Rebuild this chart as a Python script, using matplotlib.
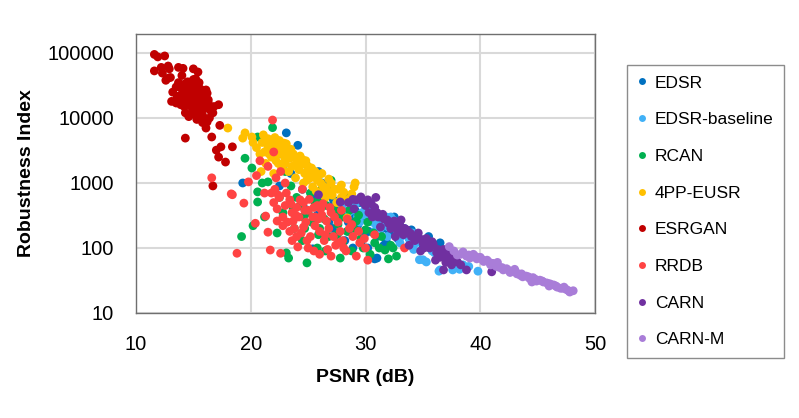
import matplotlib
matplotlib.use("Agg")
import matplotlib.pyplot as plt
from matplotlib.lines import Line2D

# ---------------- data (PSNR dB, Robustness Index) ----------------
edsr_psnr = [23.1, 24.1, 24.8, 19.3, 25.4, 28.9, 31.0, 30.8, 34.0, 25.5, 26.0, 26.5, 27.0, 27.2, 27.5,
             27.8, 28.0, 28.3, 28.5, 28.8, 29.0, 29.3, 29.5, 29.8, 30.0, 30.3, 30.5, 30.8, 31.0, 31.2,
             31.5, 31.8, 32.0, 32.3, 32.5, 32.8, 33.0, 33.5, 34.5, 35.0, 35.5, 36.0, 36.5, 37.0, 26.8,
             27.6, 28.2, 29.6, 30.2, 24.5, 25.0, 26.2, 23.5, 22.5,
             26.3, 27.3, 28.6, 29.1, 30.6, 31.4, 32.0, 32.8, 33.2, 33.8, 34.2, 35.2, 29.9, 31.6, 28.5,
             27.1, 25.8, 24.7, 26.7, 25.9]
edsr_ri = [5900, 3800, 2000, 1000, 97, 100, 70, 68, 190, 600, 450, 700, 400, 550, 300,
           450, 350, 600, 250, 400, 300, 220, 500, 350, 280, 180, 400, 250, 150, 320,
           200, 130, 260, 170, 300, 140, 220, 160, 130, 110, 150, 90, 120, 80, 250,
           170, 130, 120, 100, 800, 1200, 1000, 1400, 900,
           550, 480, 520, 380, 330, 280, 190, 240, 180, 140, 120, 130, 160, 110, 180,
           200, 320, 400, 900, 1500]

edsrb_psnr = [27.5, 28.0, 28.5, 29.0, 29.3, 29.7, 30.0, 30.3, 30.6, 31.0, 31.3, 31.6, 32.0, 32.4, 32.8,
              33.1, 33.4, 33.8, 34.1, 34.4, 34.7, 35.0, 35.3, 35.6, 36.0, 36.4, 36.5, 37.0, 37.6, 38.0,
              38.5, 39.8, 30.8, 31.9, 33.0, 34.2, 29.5, 32.2,
              28.8, 29.9, 30.9, 31.8, 32.6, 33.3, 34.6, 35.1, 35.8, 36.8, 37.3, 37.8, 38.2, 39.0, 29.2, 30.5]
edsrb_ri = [500, 400, 350, 450, 300, 350, 420, 280, 250, 320, 200, 260, 210, 270, 180,
            150, 200, 140, 170, 120, 66, 66, 61, 100, 85, 44, 46, 70, 46, 60,
            55, 44, 180, 150, 120, 95, 250, 300,
            380, 320, 230, 300, 230, 170, 140, 120, 90, 75, 60, 50, 47, 52, 500, 360]

rcan_psnr = [21.9, 19.5, 20.6, 20.1, 20.6, 21.5, 19.2, 20.2, 22.3, 23.1, 23.3, 20.6, 24.9, 22.0, 22.5,
             23.0, 23.5, 24.0, 24.3, 24.6, 25.0, 25.3, 25.6, 26.0, 26.4, 26.8, 27.2, 27.6, 28.0, 28.4,
             28.8, 29.2, 29.6, 30.0, 30.4, 30.8, 31.2, 31.7, 32.2, 32.7, 26.5, 27.8, 22.8, 23.8, 21.2,
             24.5, 25.8, 27.0, 28.2, 26.2, 32.4, 32.0,
             25.2, 26.0, 26.6, 27.4, 28.0, 28.6, 29.0, 29.4, 30.2, 30.7, 31.4, 23.7, 24.7, 22.5, 21.0,
             25.9, 27.5, 29.8]
rcan_ri = [7100, 2400, 5100, 1700, 730, 1040, 150, 220, 170, 84, 70, 510, 59, 3500, 2800,
           1500, 900, 600, 450, 300, 350, 250, 500, 200, 280, 150, 400, 230, 120, 180,
           90, 260, 140, 190, 80, 120, 100, 93, 110, 75, 90, 70, 350, 200, 300,
           130, 100, 1100, 650, 800, 100, 68,
           700, 550, 450, 330, 300, 380, 200, 320, 250, 170, 150, 400, 200, 600, 1000,
           160, 160, 100]

eusr_psnr = [18.0, 19.5, 19.3, 20.1, 21.1, 21.0, 21.7, 22.3, 22.5, 22.8, 20.5, 20.8, 21.2, 21.5, 21.8,
             22.0, 22.2, 22.4, 22.6, 22.9, 23.0, 23.2, 23.4, 23.6, 23.8, 24.0, 24.2, 24.4, 24.5, 24.7,
             24.9, 25.0, 25.2, 25.4, 25.5, 25.8, 25.9, 26.1, 26.3, 26.6, 26.7, 27.1, 27.3, 27.9, 28.8,
             29.0, 29.1, 28.4, 23.3, 22.7, 21.3, 22.0, 26.0, 24.6, 23.9, 27.5, 26.5, 25.7, 20.9, 23.1,
             21.5, 22.1, 21.9, 22.7, 23.5, 23.7, 24.3, 24.8, 25.3, 25.6, 26.2, 26.8, 27.0, 27.6, 28.1,
             22.4, 23.0, 23.9, 24.9, 26.4, 27.9, 28.5, 20.2, 21.6, 22.9]
eusr_ri = [7000, 5900, 4900, 5100, 5500, 4200, 4300, 4200, 4500, 3200, 3500, 2800, 3000, 3600, 2500,
           3300, 2200, 2800, 3700, 2600, 2000, 3000, 2400, 1800, 2500, 2100, 1600, 1900, 2300, 1400,
           1500, 1800, 1200, 870, 1300, 1100, 1300, 1000, 900, 840, 730, 650, 800, 930, 680,
           870, 1000, 290, 1500, 1700, 2000, 1400, 700, 1000, 1200, 500, 600, 750, 1500, 4000,
           4800, 5000, 3900, 3500, 3300, 2800, 2600, 2200, 1700, 1500, 1400, 1150, 1000, 800, 720,
           2000, 2300, 1900, 1100, 650, 600, 560, 4200, 2800, 4100]

esrgan_psnr = [11.6, 11.9, 12.5, 11.6, 12.3, 12.8, 12.9, 12.8, 13.7, 14.1, 15.0, 15.4, 14.0, 13.7, 14.5,
               15.0, 13.1, 13.7, 16.1, 16.3, 17.2, 16.7, 16.2, 16.1, 16.6, 14.3, 17.0, 17.4, 17.2, 17.8,
               18.4, 17.3, 16.7, 13.2, 13.5, 13.8, 14.0, 14.2, 14.4, 14.5, 14.6, 14.7, 14.8, 14.9, 15.0,
               15.1, 15.2, 15.3, 15.4, 15.5, 15.6, 15.7, 15.8, 15.9, 16.0, 14.3, 14.6, 15.3, 15.8, 16.4,
               16.5, 13.9, 14.1, 15.0, 15.5, 16.2,
               14.4, 14.8, 15.2, 14.9, 15.1, 15.6, 14.7, 15.4, 13.6, 14.2, 16.3, 15.9, 15.2, 16.8, 13.5,
               12.6, 13.0, 12.2]
esrgan_ri = [95000, 87000, 90000, 53000, 49000, 63000, 57000, 41000, 60000, 58000, 57000, 51000, 45000, 35000, 36000,
             39000, 18000, 19000, 27000, 19000, 16000, 12000, 8700, 7000, 5100, 4900, 3200, 3600, 2500, 2100,
             3600, 7700, 900, 25000, 30000, 22000, 28000, 33000, 25000, 18000, 30000, 22000, 15000, 27000, 20000,
             32000, 17000, 24000, 13000, 21000, 28000, 16000, 11000, 19000, 14000, 12000, 10500, 9500, 8500, 10000,
             13000, 16000, 20000, 25000, 35000, 24000,
             28000, 35000, 40000, 12000, 14000, 23000, 19000, 30000, 21000, 15000, 17000, 26000, 11000, 15000, 17000,
             38000, 42000, 60000]

rrdb_psnr = [21.9, 16.6, 18.4, 19.4, 18.8, 21.7, 22.6, 24.1, 20.4, 21.5, 21.3, 18.3, 19.8, 20.5, 20.8,
             22.6, 21.8, 22.0, 22.3, 22.5, 22.8, 23.0, 23.2, 23.4, 23.6, 23.8, 24.0, 24.2, 24.4, 24.6,
             24.8, 25.0, 25.2, 25.4, 25.6, 25.8, 26.0, 26.2, 26.4, 26.6, 26.8, 27.0, 27.2, 27.4, 27.6,
             27.8, 28.0, 28.3, 28.6, 28.9, 29.2, 29.5, 30.0, 30.8, 30.2, 26.0, 27.0, 25.5, 23.0, 22.2,
             24.5, 22.0, 21.5, 23.6, 25.0, 26.7, 21.2, 33.4,
             22.1, 22.4, 23.1, 23.5, 23.9, 24.3, 24.7, 25.1, 25.5, 25.9, 26.3, 26.9, 27.3, 27.9, 28.4,
             28.8, 29.4, 29.9, 24.9, 24.0, 23.4, 22.8, 22.3, 26.5, 27.6, 28.1, 25.6, 24.6, 26.1, 23.7]
rrdb_ri = [9300, 1200, 660, 490, 83, 93, 83, 104, 240, 175, 310, 680, 1040, 1300, 2200,
           1500, 700, 500, 400, 600, 300, 450, 250, 550, 350, 200, 420, 300, 170, 500,
           250, 380, 150, 300, 220, 450, 180, 320, 130, 260, 200, 350, 150, 110, 250,
           180, 130, 90, 200, 150, 75, 120, 100, 160, 65, 80, 75, 90, 1000, 1200,
           800, 3000, 1800, 130, 100, 95, 700, 100,
           800, 650, 700, 480, 320, 550, 380, 560, 420, 280, 480, 420, 300, 380, 280,
           230, 180, 140, 130, 150, 180, 220, 260, 160, 120, 100, 300, 210, 400, 260]

carn_psnr = [25.9, 27.8, 28.5, 29.0, 29.6, 29.2, 30.0, 30.3, 30.6, 31.0, 31.3, 31.6, 32.0, 32.2, 32.5,
             32.8, 33.0, 33.3, 33.6, 34.0, 34.3, 34.6, 35.0, 35.3, 35.6, 35.9, 36.2, 36.5, 36.8, 37.0,
             37.3, 37.6, 38.0, 36.8, 38.8, 41.0, 37.9, 34.8, 33.8, 32.6,
             29.8, 30.2, 30.8, 31.1, 31.5, 31.9, 32.4, 32.9, 33.4, 33.9, 34.4, 34.9, 35.4, 35.8, 36.3,
             36.6, 37.1, 37.5, 38.3, 36.1, 35.1, 33.1, 30.5, 28.9, 30.9]
carn_ri = [660, 510, 500, 400, 610, 550, 450, 350, 300, 350, 210, 280, 240, 200, 260,
           180, 220, 160, 190, 150, 130, 170, 120, 140, 100, 115, 85, 72, 95, 60,
           80, 65, 61, 46, 46, 43, 75, 90, 110, 150,
           500, 550, 420, 300, 330, 270, 220, 230, 200, 170, 150, 135, 110, 125, 95,
           80, 70, 55, 55, 65, 100, 270, 480, 560, 600]

carnm_psnr = [37.3, 38.0, 38.5, 38.8, 39.1, 39.4, 39.7, 40.0, 40.3, 40.6, 40.9, 41.1, 41.4, 41.7, 42.0,
              42.3, 42.6, 42.9, 43.2, 43.5, 43.7, 44.0, 44.3, 44.6, 44.9, 45.2, 45.5, 45.8, 46.1, 46.4,
              46.7, 47.0, 47.3, 47.5, 47.8, 48.1, 41.5, 43.0, 44.5, 46.0,
              38.3, 39.0, 39.6, 40.2, 40.8, 41.3, 41.9, 42.5, 43.1, 43.6, 44.2, 44.8, 45.4, 46.0, 46.6,
              47.2, 47.7, 37.7]
carnm_ri = [105, 78, 87, 75, 70, 80, 68, 72, 62, 65, 55, 58, 52, 50, 46,
            48, 42, 44, 40, 38, 36, 37, 34, 35, 31, 32, 30, 29, 28, 27,
            25, 24, 25, 23, 21, 22, 60, 47, 30, 26,
            80, 78, 74, 66, 60, 55, 50, 45, 43, 40, 36, 33, 31, 28, 26,
            24, 22, 90]

series_names = ["EDSR", "EDSR-baseline", "RCAN", "4PP-EUSR", "ESRGAN", "RRDB", "CARN", "CARN-M"]
series_x = [edsr_psnr, edsrb_psnr, rcan_psnr, eusr_psnr, esrgan_psnr, rrdb_psnr, carn_psnr, carnm_psnr]
series_y = [edsr_ri, edsrb_ri, rcan_ri, eusr_ri, esrgan_ri, rrdb_ri, carn_ri, carnm_ri]
colors = ["#0070C0", "#41B1F7", "#00B050", "#FFC000", "#C00000", "#FF4343", "#7030A0", "#A97DD8"]

x_ticks = [10, 20, 30, 40, 50]
y_ticks = [10, 100, 1000, 10000, 100000]
y_tick_labels = ["10", "100", "1000", "10000", "100000"]

# ---------------- plot ----------------
W, H = 799, 418
fig = plt.figure(figsize=(W / 100, H / 100), dpi=100)
ax = fig.add_axes([136 / W, (H - 313) / H, 459 / W, (313 - 34) / H])

for xs, ys, c, n in zip(series_x, series_y, colors, series_names):
    ax.scatter(xs, ys, s=40, color=c, edgecolors="none", label=n, zorder=3)

ax.set_yscale("log")
ax.set_xlim(10, 50)
ax.set_ylim(10, 10 ** 5.292)
ax.set_xticks(x_ticks)
ax.set_xticklabels([str(v) for v in x_ticks])
ax.set_yticks(y_ticks)
ax.set_yticklabels(y_tick_labels)
ax.minorticks_off()
ax.grid(True, color="#D9D9D9", linewidth=1.5, zorder=0)
ax.set_axisbelow(True)
for sp in ax.spines.values():
    sp.set_color("#6F6F6F")
    sp.set_linewidth(1.0)

font = "Liberation Sans"
ax.tick_params(length=0, pad=16, labelsize=14.5, labelcolor="#000000")
for lbl in ax.get_xticklabels() + ax.get_yticklabels():
    lbl.set_fontfamily(font)

ax.set_xlabel("PSNR (dB)", fontsize=14, fontweight="bold", fontfamily=font)
ax.set_ylabel("Robustness Index", fontsize=14, fontweight="bold", fontfamily=font)
ax.xaxis.label.set_va("center")
ax.yaxis.label.set_va("center")
ax.xaxis.set_label_coords(0.5, (313 - 378) / 279)
ax.yaxis.set_label_coords((27 - 136) / 459, 0.5)

handles = [Line2D([], [], linestyle="none", marker="o", markersize=5, markerfacecolor=c,
                  markeredgecolor="none") for c in colors]
leg = fig.legend(handles, series_names, loc="upper left",
                 bbox_to_anchor=(627 / W, 1 - 65 / H), borderaxespad=0,
                 prop={"family": font, "size": 12.5}, frameon=True, fancybox=False,
                 handlelength=0.5, handletextpad=0.5, borderpad=0.6, labelspacing=1.24)
leg.get_frame().set_edgecolor("#6F6F6F")
leg.get_frame().set_linewidth(1.0)

fig.savefig("out.png", dpi=100)
